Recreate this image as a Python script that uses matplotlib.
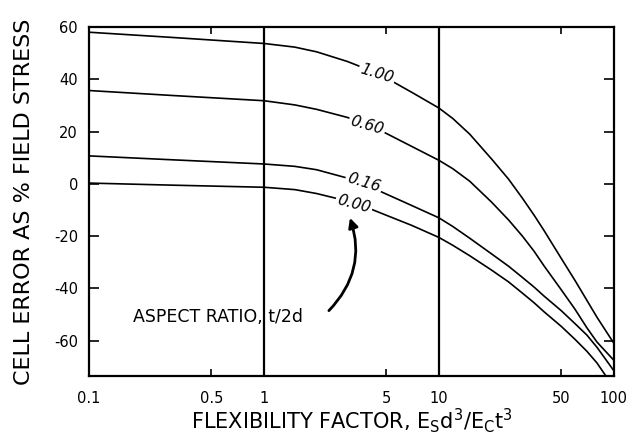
import matplotlib
matplotlib.use("Agg")
import matplotlib.pyplot as plt

plt.rcParams['font.family'] = ['DejaVu Sans']
plt.rcParams['mathtext.default'] = 'regular'

# ============================================
# Data
# ============================================
flex = [0.1, 0.3, 1, 1.5, 2, 3, 4, 5, 7, 10, 12, 15, 20, 25, 30, 35, 40, 50, 60, 70, 80, 100]
err_100 = [58.0, 56.0, 53.7, 52.3, 50.5, 46.8, 43.5, 40.5, 35.0, 29.0, 25.0, 19.0, 9.5, 1.8,
           -5.5, -12.0, -18.0, -28.5, -37.0, -44.5, -51.0, -61.0]
err_060 = [35.7, 33.8, 31.8, 30.2, 28.5, 25.4, 22.3, 19.3, 14.3, 9.0, 5.8, 1.0, -7.0, -13.8,
           -20.0, -25.8, -31.5, -40.5, -48.0, -55.0, -60.5, -67.5]
err_016 = [10.7, 9.2, 7.6, 6.7, 5.4, 2.2, -1.0, -3.9, -8.3, -13.0, -16.3, -20.8, -26.8, -31.5,
           -35.8, -39.5, -43.0, -48.5, -53.5, -57.8, -62.5, -71.5]
flex_000 = [0.1, 0.3, 1, 1.5, 2, 3, 4, 5, 7, 10, 12, 15, 20, 25, 30, 35, 40, 50, 60, 70, 80, 90]
err_000 = [0.3, -0.5, -1.3, -2.2, -3.7, -6.6, -9.4, -12.0, -15.9, -20.5, -23.5, -27.5, -33.0, -37.5,
           -41.8, -45.5, -49.0, -54.5, -59.5, -64.0, -68.5, -73.5]

ratio_labels = ['1.00', '0.60', '0.16', '0.00']
label_x = [4.43, 3.88, 3.72, 3.27]
label_y = [42.3, 22.3, 0.4, -7.7]
label_rot = [-17, -16, -17, -15]

x_ticks = [0.1, 0.5, 1, 5, 10, 50, 100]
x_tick_labels = ['0.1', '0.5', '1', '5', '10', '50', '100']
y_ticks = [60, 40, 20, 0, -20, -40, -60]
y_tick_labels = ['60', '40', '20', '0', '-20', '-40', '-60']

# ============================================
# Figure
# ============================================
fig = plt.figure(figsize=(6.29, 4.34), dpi=100)
ax = fig.add_axes([0.1415, 0.1336, 0.8345, 0.8042])

curves = [(flex, err_100), (flex, err_060), (flex, err_016), (flex_000, err_000)]
for (xs, ys) in curves:
    ax.plot(xs, ys, color='black', lw=1.2, solid_joinstyle='round')

# heavy verticals at 1 and 10
for xv in [1, 10]:
    ax.axvline(xv, color='black', lw=1.6)

# inline curve labels (white box breaks the line)
for txt, lx, ly, rot in zip(ratio_labels, label_x, label_y, label_rot):
    ax.text(lx, ly, txt, fontsize=11, style='italic', rotation=rot,
            ha='center', va='center', rotation_mode='anchor',
            bbox=dict(boxstyle='square,pad=0.12', fc='white', ec='none'))

ax.text(0.178, -50.8, 'ASPECT RATIO, t/2d', fontsize=12.5, ha='left', va='center')
ax.annotate('', xy=(3.1, -13.0), xytext=(2.35, -48.5),
            arrowprops=dict(arrowstyle='-|>', color='black', lw=2,
                            mutation_scale=14, shrinkA=0, shrinkB=0,
                            connectionstyle='arc3,rad=0.3'))

ax.set_xscale('log')
ax.set_xlim(0.1, 100)
ax.set_ylim(-73.5, 60)
ax.set_xticks(x_ticks)
ax.set_xticklabels(x_tick_labels)
ax.minorticks_off()
ax.set_yticks(y_ticks)
ax.set_yticklabels(y_tick_labels)

ax.tick_params(axis='x', which='major', direction='in', length=5, width=1.2,
               top=True, labelsize=10.5, pad=11)
ax.tick_params(axis='y', which='major', direction='in', length=7, width=1.2,
               right=True, labelsize=10.5, pad=8)
for s in ax.spines.values():
    s.set_linewidth(1.6)

ax.set_xlabel(r'FLEXIBILITY FACTOR, E$_{S}$d$^{3}$/E$_{C}$t$^{3}$',
              fontsize=15, labelpad=0)
ax.set_ylabel('CELL ERROR AS % FIELD STRESS', fontsize=16, labelpad=14)

fig.savefig('out.png', dpi=100)
